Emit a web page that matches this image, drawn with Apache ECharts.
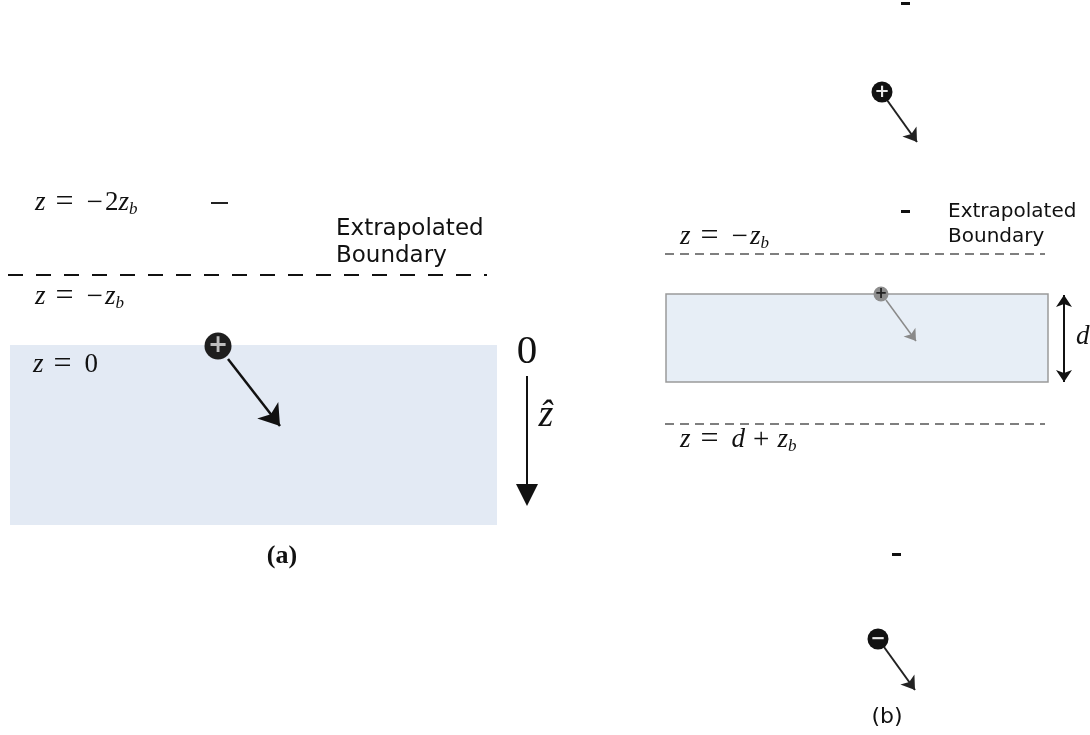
<!DOCTYPE html>
<html>
<head>
<meta charset="utf-8">
<script src="https://cdn.jsdelivr.net/npm/echarts@6/dist/echarts.min.js"></script>
<style>
  html, body { margin: 0; padding: 0; background: #fff; }
  #main { width: 1090px; height: 735px; }
</style>
</head>
<body>
<div id="main"></div>
<script>
// Image-source construction for a diffusing medium.
// Diagram frame: x to the right, y (depth) downward, in drawing units.

// (a) semi-infinite medium
const halfSpaceA = [[10, 345], [497, 525]];
const boundaryA = [[[8, 275], [487, 275]]];
const sourceA = [[218, 346, '+']];
const sourceArrowA = [[[228, 359], [280, 426]]];
const zAxisArrowA = [[[527, 376], [527, 495]]];
const minusMarksA = [[[211, 203], [228, 203]]];

// (b) slab of thickness d
const slabB = [[666, 294], [1048, 382]];
const boundariesB = [[[665, 254], [1045, 254]], [[665, 424], [1045, 424]]];
const sourceB = [[881, 294, '+']];
const sourceArrowB = [[[886, 300], [916, 341]]];
const imageChargesB = [[882, 92, '+'], [878, 639, '\u2212']];
const imageArrowsB = [[[887, 100], [917, 142]], [[884, 647], [915, 690]]];
const thicknessArrowB = [[[1064, 295], [1064, 382]]];
const minusMarksB = [[[901, 3], [910, 3]], [[901, 211], [910, 211]], [[892, 554], [901, 554]]];

// text labels: [x, y, text, style]
const labels = [
  [35, 203, '{i|z}{e|=}{m|\u2212}2{i|z}{s|b}', 'math'],
  [35, 297, '{i|z}{e|=}{m|\u2212}{i|z}{s|b}', 'math'],
  [33, 365, '{i|z}{e|=}0', 'math'],
  [336, 229, 'Extrapolated', 'sansA'],
  [336, 256, 'Boundary', 'sansA'],
  [527, 352, '0', 'big'],
  [546, 416, '{zi|\u1E91}', 'big'],
  [282, 556, '(a)', 'capA'],
  [680, 237, '{i|z}{e|=}{k|\u2212}{i|z}{s|b}', 'math'],
  [948, 212, 'Extrapolated', 'sansB'],
  [948, 237, 'Boundary', 'sansB'],
  [1076, 337, '{i|d}', 'math'],
  [680, 440, '{i|z}{e|=}{i|d}{p|+}{i|z}{s|b}', 'math'],
  [887, 717, '(b)', 'capB']
];

const SERIF = '"Liberation Serif", "DejaVu Serif", serif';
const SANS = '"DejaVu Sans", "Noto Sans", sans-serif';

const richMath = {
  i: { fontFamily: SERIF, fontStyle: 'italic', fontSize: 27, lineHeight: 30, color: '#111' },
  s: { fontFamily: SERIF, fontStyle: 'italic', fontSize: 17, lineHeight: 17, verticalAlign: 'bottom', color: '#111' },
  e: { fontFamily: SERIF, fontSize: 32, lineHeight: 30, color: '#111', padding: [0, 13, 0, 10] },
  m: { fontFamily: SERIF, fontSize: 29, lineHeight: 30, color: '#5f7f96', padding: [0, 2, 0, 0] },
  k: { fontFamily: SERIF, fontSize: 29, lineHeight: 30, color: '#111', padding: [0, 2, 0, 0] },
  p: { fontFamily: SERIF, fontSize: 29, lineHeight: 30, color: '#111', padding: [0, 8, 0, 8] },
  zi: { fontFamily: SERIF, fontStyle: 'italic', fontSize: 38, lineHeight: 40, color: '#111' }
};

const labelStyles = {
  math: { fontFamily: SERIF, fontSize: 27, lineHeight: 30, fill: '#111', align: 'left' },
  sansA: { fontFamily: SANS, fontSize: 23, fill: '#111', align: 'left' },
  sansB: { fontFamily: SANS, fontSize: 20, fill: '#111', align: 'left' },
  big: { fontFamily: SERIF, fontSize: 41, lineHeight: 42, fill: '#111', align: 'center' },
  capA: { fontFamily: SERIF, fontSize: 26, fontWeight: 'bold', fill: '#111', align: 'center' },
  capB: { fontFamily: SANS, fontSize: 22, fill: '#111', align: 'center' }
};

function rectSeries(corners, fill, stroke) {
  return {
    type: 'custom',
    coordinateSystem: 'cartesian2d',
    data: [[corners[0][0], corners[0][1], corners[1][0], corners[1][1]]],
    silent: true,
    z: 1,
    renderItem: function (params, api) {
      const p0 = api.coord([api.value(0), api.value(1)]);
      const p1 = api.coord([api.value(2), api.value(3)]);
      return {
        type: 'rect',
        shape: { x: p0[0], y: p0[1], width: p1[0] - p0[0], height: p1[1] - p0[1] },
        style: { fill: fill, stroke: stroke || null, lineWidth: stroke ? 1.5 : 0 }
      };
    }
  };
}

function lineSeries(segments, style, symbols, symbolSize, z) {
  return {
    type: 'lines',
    coordinateSystem: 'cartesian2d',
    silent: true,
    z: z || 3,
    symbol: symbols || ['none', 'none'],
    symbolSize: symbolSize || 10,
    lineStyle: Object.assign({ opacity: 1, curveness: 0 }, style),
    data: segments.map(function (s) { return { coords: s }; })
  };
}

function chargeSeries(points, size, fill, signColor, signSize) {
  return {
    type: 'scatter',
    silent: true,
    z: 5,
    symbol: 'circle',
    symbolSize: size,
    itemStyle: { color: fill, opacity: 1 },
    label: {
      show: true,
      position: 'inside',
      formatter: function (p) { return p.value[2]; },
      color: signColor,
      fontSize: signSize,
      fontWeight: 'bold',
      fontFamily: SANS
    },
    data: points
  };
}

const textSeries = {
  type: 'custom',
  coordinateSystem: 'cartesian2d',
  silent: true,
  z: 6,
  data: labels.map(function (l) { return [l[0], l[1]]; }),
  renderItem: function (params, api) {
    const l = labels[params.dataIndex];
    const p = api.coord([api.value(0), api.value(1)]);
    const st = labelStyles[l[3]];
    return {
      type: 'text',
      x: p[0],
      y: p[1],
      style: Object.assign({ text: l[2], rich: richMath, verticalAlign: 'middle' }, st)
    };
  }
};

const chart = echarts.init(document.getElementById('main'), null, { renderer: 'canvas' });
chart.setOption({
  backgroundColor: '#ffffff',
  animation: false,
  grid: { left: 0, right: 0, top: 0, bottom: 0 },
  xAxis: { type: 'value', min: 0, max: 1090, show: false },
  yAxis: { type: 'value', min: 0, max: 735, inverse: true, show: false },
  series: [
    rectSeries(halfSpaceA, '#e3eaf4'),
    rectSeries(slabB, '#e7eef6', '#9a9a9a'),
    lineSeries(boundaryA, { color: '#111', width: 2, type: [15, 13] }),
    lineSeries(boundariesB, { color: '#555', width: 1.6, type: [9, 6] }),
    lineSeries(minusMarksA, { color: '#222', width: 2 }),
    lineSeries(minusMarksB, { color: '#111', width: 3 }),
    lineSeries(sourceArrowA, { color: '#111', width: 2.5 }, ['none', 'arrow'], 20, 4),
    lineSeries(zAxisArrowA, { color: '#111', width: 2 }, ['none', 'triangle'], 22, 4),
    lineSeries(sourceArrowB, { color: '#8a8a8a', width: 1.5 }, ['none', 'arrow'], 11, 4),
    lineSeries(imageArrowsB, { color: '#222', width: 2 }, ['none', 'arrow'], 13, 4),
    lineSeries(thicknessArrowB, { color: '#111', width: 2 }, ['arrow', 'arrow'], 12, 4),
    chargeSeries(sourceA, 27, '#1e1e1e', '#bdbdbd', 24),
    chargeSeries(sourceB, 15, '#8d8d8d', '#222', 15),
    chargeSeries(imageChargesB, 21, '#111', '#e8e8e8', 18),
    textSeries
  ]
});
</script>
</body>
</html>
